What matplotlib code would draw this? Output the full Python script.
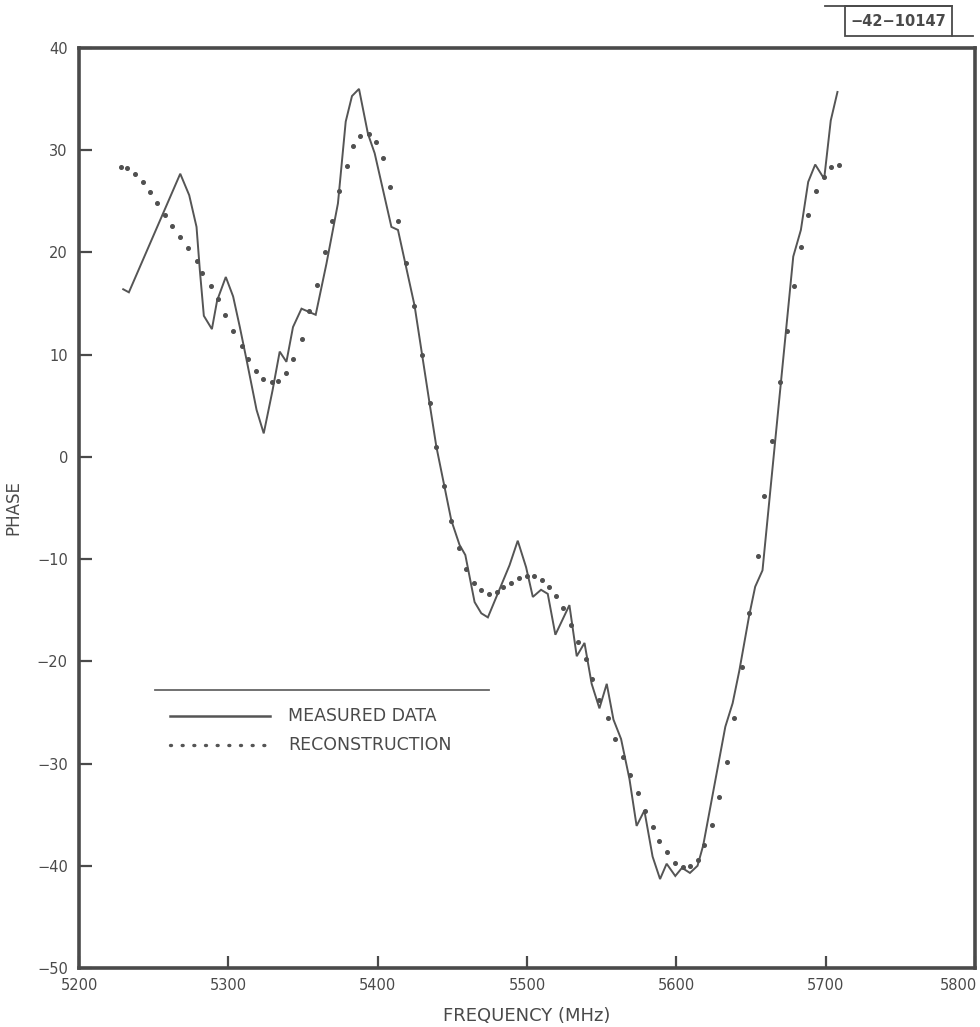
import matplotlib
matplotlib.use("Agg")
import matplotlib.pyplot as plt
from matplotlib.lines import Line2D
from matplotlib.patches import Rectangle
import matplotlib.transforms as mtransforms

# ---------------- data ----------------
measured_freq = [5229.6, 5233.4, 5267.8, 5273.8, 5278.7, 5280.9, 5283.6, 5289.0, 5292.5, 5298.3,
                 5303.2, 5307.7, 5312.2, 5318.9, 5323.7, 5329.6, 5334.4, 5338.9, 5343.3, 5349.0,
                 5358.5, 5365.7, 5373.4, 5378.6, 5382.8, 5387.5, 5393.5, 5398.0, 5409.2, 5413.6,
                 5424.7, 5434.8, 5439.3, 5449.3, 5454.8, 5458.7, 5464.9, 5469.4, 5473.8, 5488.3,
                 5493.8, 5499.4, 5503.9, 5509.4, 5513.9, 5519.0, 5528.4, 5533.3, 5538.5, 5543.3,
                 5548.5, 5553.4, 5557.9, 5563.0, 5568.6, 5573.4, 5578.6, 5584.1, 5589.1, 5593.5,
                 5599.3, 5603.8, 5609.1, 5614.2, 5618.0, 5632.8, 5637.7, 5642.2, 5648.8, 5652.8,
                 5657.7, 5678.3, 5683.4, 5688.3, 5693.0, 5699.0, 5703.4, 5707.9]
measured_phase = [16.4, 16.1, 27.7, 25.6, 22.5, 18.3, 13.8, 12.5, 15.3, 17.6,
                  15.7, 12.7, 9.5, 4.6, 2.3, 6.5, 10.3, 9.3, 12.7, 14.5,
                  13.9, 18.9, 24.8, 32.8, 35.3, 36.0, 31.6, 29.7, 22.5, 22.2,
                  14.8, 5.2, 1.0, -6.2, -8.6, -9.6, -14.2, -15.3, -15.7, -10.6,
                  -8.2, -10.8, -13.7, -13.0, -13.4, -17.4, -14.5, -19.5, -18.2, -22.2,
                  -24.6, -22.2, -25.7, -27.6, -31.5, -36.1, -34.6, -39.1, -41.3, -39.8,
                  -41.0, -40.2, -40.7, -40.0, -38.0, -26.4, -24.1, -20.9, -15.5, -12.7,
                  -11.1, 19.6, 22.2, 26.9, 28.6, 27.2, 32.9, 35.7]

recon_freq = [5227.9, 5232.3, 5237.5, 5242.6, 5247.5, 5252.4, 5257.6, 5262.5, 5267.6, 5272.7,
              5278.7, 5282.1, 5288.1, 5293.2, 5297.7, 5303.3, 5308.9, 5313.3, 5318.4, 5323.4,
              5329.0, 5333.4, 5338.4, 5343.5, 5349.1, 5353.8, 5359.2, 5364.7, 5369.2, 5374.1,
              5379.2, 5383.5, 5388.0, 5394.0, 5398.7, 5403.5, 5408.5, 5413.6, 5419.2, 5424.3,
              5429.9, 5434.8, 5439.3, 5444.1, 5449.3, 5454.4, 5459.3, 5464.2, 5469.4, 5474.4,
              5479.8, 5483.8, 5489.0, 5494.5, 5499.9, 5505.0, 5510.1, 5514.6, 5519.5, 5524.4,
              5529.5, 5534.0, 5539.6, 5543.6, 5548.5, 5554.5, 5559.2, 5564.1, 5569.2, 5574.1,
              5579.3, 5584.1, 5588.6, 5593.8, 5599.3, 5604.2, 5609.4, 5614.2, 5618.5, 5623.9,
              5628.8, 5633.9, 5638.8, 5643.7, 5648.8, 5654.4, 5658.9, 5663.8, 5669.1, 5674.0,
              5678.9, 5683.8, 5688.5, 5693.4, 5698.6, 5703.9, 5708.6]
recon_phase = [28.4, 28.3, 27.7, 26.9, 25.9, 24.8, 23.7, 22.6, 21.5, 20.4,
               19.2, 18.0, 16.7, 15.4, 13.9, 12.3, 10.8, 9.6, 8.4, 7.6,
               7.3, 7.4, 8.2, 9.6, 11.5, 14.3, 16.8, 20.0, 23.1, 26.0,
               28.5, 30.4, 31.4, 31.6, 30.8, 29.2, 26.4, 23.1, 19.0, 14.8,
               10.0, 5.3, 1.0, -2.8, -6.3, -8.9, -11.0, -12.3, -13.0, -13.4,
               -13.2, -12.7, -12.3, -11.8, -11.7, -11.7, -12.0, -12.7, -13.6, -14.8,
               -16.4, -18.1, -19.8, -21.7, -23.8, -25.5, -27.6, -29.4, -31.1, -32.9,
               -34.6, -36.2, -37.6, -38.7, -39.7, -40.1, -40.0, -39.4, -38.0, -36.0,
               -33.3, -29.8, -25.5, -20.6, -15.3, -9.7, -3.8, 1.6, 7.3, 12.3,
               16.7, 20.5, 23.7, 26.0, 27.4, 28.4, 28.6]

x_ticks = [5200, 5300, 5400, 5500, 5600, 5700, 5800]
y_ticks = [40, 30, 20, 10, 0, -10, -20, -30, -40, -50]
y_tick_labels = ["40", "30", "20", "10", "0", "\u221210", "\u221220", "\u221230", "\u221240", "\u221250"]
x_label = "FREQUENCY (MHz)"
y_label = "PHASE"
legend_labels = ["MEASURED DATA", "RECONSTRUCTION"]
doc_id = "\u221242\u221210147"

# ---------------- figure ----------------
INK = "#4a4a4a"
W, H = 980, 1027
fig = plt.figure(figsize=(W / 100, H / 100), dpi=100)
fig.patch.set_facecolor("white")
ax = fig.add_axes([79 / W, 1 - 968 / H, (975 - 79) / W, (968 - 48) / H])

ax.plot(measured_freq, measured_phase, color="#555555", lw=1.4, solid_joinstyle="miter")
ax.plot(recon_freq, recon_phase, ls="none", marker="o", ms=2.6, color="#505050", mec="#505050")

ax.set_xlim(5200, 5800)
ax.set_ylim(-50, 40)
ax.set_xticks(x_ticks)
ax.set_yticks(y_ticks)
ax.set_yticklabels(y_tick_labels)
ax.tick_params(direction="in", length=9, width=1.6, color=INK, labelcolor=INK,
               labelsize=10.5)
ax.tick_params(axis="y", pad=8)
ax.tick_params(axis="x", pad=7)
for s in ax.spines.values():
    s.set_linewidth(2.6)
    s.set_color(INK)

# keep the last x tick label inside the figure
last = ax.get_xticklabels()[-1]
last.set_transform(last.get_transform() + mtransforms.ScaledTranslation(-17 / 100, 0, fig.dpi_scale_trans))

ax.set_xlabel(x_label, fontsize=13, color=INK, labelpad=10)
ax.set_ylabel(y_label, fontsize=12, color=INK)
ax.yaxis.set_label_coords((22 - 79) / 896, 0.5)

# legend (decoration, axes coordinates)
ax.plot([0.0848, 0.4576], [0.3022, 0.3022], transform=ax.transAxes, color="#666666", lw=1.3)
ax.plot([0.1016, 0.2132], [0.274, 0.274], transform=ax.transAxes, color="#555555", lw=1.8)
ax.plot([0.1016, 0.2165], [0.2424, 0.2424], transform=ax.transAxes, color="#555555",
        lw=2.4, ls=(0, (0.3, 3.2)), dash_capstyle="round")
ax.text(0.2333, 0.274, legend_labels[0], transform=ax.transAxes, fontsize=12.5,
        color=INK, va="center", ha="left")
ax.text(0.2333, 0.2424, legend_labels[1], transform=ax.transAxes, fontsize=12.5,
        color=INK, va="center", ha="left")

# document number box, top right
fig.lines.append(Line2D([825 / W, 952 / W], [1 - 6 / H, 1 - 6 / H], transform=fig.transFigure,
                        color=INK, lw=1.3))
fig.patches.append(Rectangle((845 / W, 1 - 36 / H), (952 - 845) / W, 30 / H,
                             transform=fig.transFigure, fill=False, ec=INK, lw=1.3))
fig.lines.append(Line2D([952 / W, 973 / W], [1 - 36 / H, 1 - 36 / H], transform=fig.transFigure,
                        color=INK, lw=1.3))
fig.text(898 / W, 1 - 21 / H, doc_id, fontsize=10.5, color=INK, ha="center", va="center",
         fontweight="bold")

fig.savefig("out.png", dpi=100, facecolor="white")
